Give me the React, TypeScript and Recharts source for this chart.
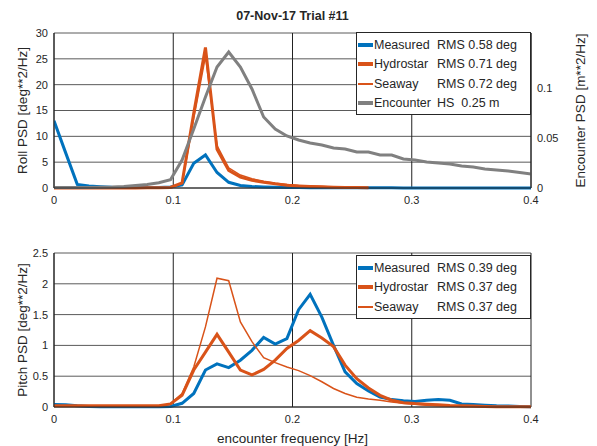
import { CartesianGrid, Legend, Line, LineChart, XAxis, YAxis } from "recharts";

// encounter frequency [Hz]
const freq = [
  0, 0.0098, 0.0195, 0.0293, 0.0391, 0.0488, 0.0586, 0.0684, 0.0781, 0.0879,
  0.0977, 0.1074, 0.1172, 0.127, 0.1367, 0.1465, 0.1563, 0.166, 0.1758, 0.1855,
  0.1953, 0.2051, 0.2148, 0.2246, 0.2344, 0.2441, 0.2539, 0.2637, 0.2734, 0.2832,
  0.293, 0.3027, 0.3125, 0.3223, 0.332, 0.3418, 0.3516, 0.3613, 0.3711, 0.3809,
  0.3906, 0.4004,
];

// roll PSD [deg**2/Hz]
const rollMeasured = [
  13, 6.8, 0.7, 0.4, 0.25, 0.15, 0.1, 0.1, 0.1, 0.1,
  0.2, 0.6, 4.8, 6.4, 3.0, 1.1, 0.5, 0.3, 0.2, 0.15,
  0.1, 0.08, 0.06, 0.05, 0.05, 0.04, 0.04, 0.03, 0.03, 0.03,
  0.02, 0.02, 0.02, 0.02, 0.02, 0.02, 0.02, 0.02, 0.02, 0.02,
  0.02, 0.02,
];
const rollHydrostar = [
  0.02, 0.02, 0.02, 0.02, 0.02, 0.02, 0.02, 0.02, 0.03, 0.04,
  0.1, 1.0, 14.5, 27.2, 7.5, 3.4, 2.1, 1.5, 1.1, 0.8,
  0.55, 0.4, 0.3, 0.22, 0.16, 0.12, 0.09, 0.07, null, null,
  null, null, null, null, null, null, null, null, null, null,
  null, null,
];
const rollSeaway = [
  0.02, 0.02, 0.02, 0.02, 0.02, 0.02, 0.02, 0.02, 0.03, 0.04,
  0.1, 0.9, 13.5, 25.5, 8.2, 3.9, 2.5, 1.8, 1.3, 0.95,
  0.7, 0.5, 0.38, 0.28, 0.2, 0.15, 0.11, 0.08, null, null,
  null, null, null, null, null, null, null, null, null, null,
  null, null,
];
// encounter wave PSD [m**2/Hz]
const encounterPsd = [
  0.0005, 0.0005, 0.0005, 0.0005, 0.0008, 0.001, 0.0015, 0.0026, 0.0036, 0.0052,
  0.0083, 0.028, 0.059, 0.091, 0.121, 0.136, 0.121, 0.099, 0.071, 0.059,
  0.052, 0.048, 0.045, 0.043, 0.04, 0.039, 0.036, 0.036, 0.033, 0.033,
  0.029, 0.028, 0.026, 0.025, 0.024, 0.022, 0.021, 0.019, 0.018, 0.017,
  0.0155, 0.014,
];

// pitch PSD [deg**2/Hz]
const pitchMeasured = [
  0.04, 0.035, 0.02, 0.01, 0.005, 0.005, 0.005, 0.005, 0.005, 0.005,
  0.01, 0.06, 0.22, 0.6, 0.7, 0.64, 0.76, 0.92, 1.13, 1.02,
  1.11, 1.58, 1.83, 1.46, 1.0, 0.57, 0.38, 0.26, 0.16, 0.12,
  0.1, 0.09, 0.11, 0.12, 0.11, 0.05, 0.04, 0.03, 0.02, 0.015,
  0.01, 0.005,
];
const pitchHydrostar = [
  0.02, 0.02, 0.02, 0.02, 0.02, 0.02, 0.02, 0.02, 0.02, 0.02,
  0.05, 0.19, 0.6, 0.89, 1.18, 0.89, 0.6, 0.52, 0.61, 0.76,
  0.95, 1.08, 1.24, 1.12, 0.98, 0.68, 0.46, 0.31, 0.19, 0.11,
  0.07, 0.055, 0.045, 0.035, 0.025, 0.02, 0.015, 0.01, 0.005, 0.005,
  0.005, 0.005,
];
const pitchSeaway = [
  0.02, 0.02, 0.02, 0.02, 0.02, 0.02, 0.02, 0.02, 0.02, 0.02,
  0.05, 0.22, 0.65, 1.3, 2.09, 2.05, 1.38, 1.06, 0.8, 0.72,
  0.65, 0.59, 0.51, 0.41, 0.3, 0.22, 0.16, 0.13, 0.11, 0.08,
  0.06, 0.045, 0.03, 0.02, 0.015, 0.01, 0.01, 0.005, 0.005, 0.005,
  0.005, 0.005,
];

const freqTicks = [0, 0.1, 0.2, 0.3, 0.4];
const rollTicks = [0, 5, 10, 15, 20, 25, 30];
const encounterTicks = [0, 0.05, 0.1];
const pitchTicks = [0, 0.5, 1, 1.5, 2, 2.5];

const rollLegend = [
  { name: "Measured", value: "RMS 0.58 deg", color: "#0072BD", thick: 4 },
  { name: "Hydrostar", value: "RMS 0.71 deg", color: "#D95319", thick: 4 },
  { name: "Seaway", value: "RMS 0.72 deg", color: "#D95319", thick: 2 },
  { name: "Encounter", value: "HS  0.25 m", color: "#808080", thick: 4 },
];
const pitchLegend = [
  { name: "Measured", value: "RMS 0.39 deg", color: "#0072BD", thick: 4 },
  { name: "Hydrostar", value: "RMS 0.37 deg", color: "#D95319", thick: 4 },
  { name: "Seaway", value: "RMS 0.37 deg", color: "#D95319", thick: 2 },
];

const rollData = freq.map((f, i) => ({
  f,
  measured: rollMeasured[i],
  hydrostar: rollHydrostar[i],
  seaway: rollSeaway[i],
  encounter: encounterPsd[i],
}));
const pitchData = freq.map((f, i) => ({
  f,
  measured: pitchMeasured[i],
  hydrostar: pitchHydrostar[i],
  seaway: pitchSeaway[i],
}));

const FONT = "'Liberation Sans', Arial, sans-serif";
const INK = "#262626";
const tickStyle = { fontSize: 11, fill: INK, fontFamily: FONT };
const labelStyle = { fontSize: 13.5, fill: INK, fontFamily: FONT, textAnchor: "middle" as const };

type Row = { name: string; value: string; color: string; thick: number };

function LegendBox({ rows }: { rows: Row[] }) {
  return (
    <div
      style={{
        border: `1px solid ${INK}`,
        background: "#fff",
        padding: "2px 0 1px 1px",
        fontFamily: FONT,
        fontSize: 12.5,
        color: INK,
        boxSizing: "border-box",
      }}
    >
      {rows.map((r) => (
        <div key={r.name} style={{ display: "flex", alignItems: "center", height: 19.5 }}>
          <span style={{ width: 15, height: r.thick, background: r.color, marginRight: 1 }} />
          <span style={{ width: 63, whiteSpace: "pre" }}>{r.name}</span>
          <span style={{ whiteSpace: "pre" }}>{r.value}</span>
        </div>
      ))}
    </div>
  );
}

export default function App() {
  return (
    <div style={{ position: "absolute", left: 0, top: 0, width: 597, height: 446, background: "#fff" }}>
      <div
        style={{
          position: "absolute",
          top: 9,
          left: 54,
          width: 477,
          textAlign: "center",
          fontFamily: FONT,
          fontWeight: "bold",
          fontSize: 12.5,
          color: INK,
        }}
      >
        07-Nov-17 Trial #11
      </div>

      <div style={{ position: "absolute", top: 0, left: 0 }}>
        <LineChart width={597} height={210} data={rollData} margin={{ top: 33, right: 0, bottom: 0, left: 0 }}>
          <CartesianGrid vertical={false} stroke="#5a5a5a" yAxisId="left" />
          <CartesianGrid horizontal={false} stroke="#222" yAxisId="left" />
          <XAxis
            dataKey="f"
            type="number"
            domain={[0, 0.4]}
            ticks={freqTicks}
            allowDataOverflow
            height={22}
            tickLine={false}
            stroke={INK}
            tick={tickStyle}
          />
          <YAxis
            yAxisId="left"
            domain={[0, 30]}
            ticks={rollTicks}
            width={54}
            tickLine={false}
            tickSize={4}
            tickMargin={2}
            stroke={INK}
            tick={tickStyle}
            label={{ value: "Roll PSD [deg**2/Hz]", angle: -90, position: "insideLeft", offset: 22, style: labelStyle }}
          />
          <YAxis
            yAxisId="right"
            orientation="right"
            domain={[0, 0.155]}
            ticks={encounterTicks}
            width={66}
            tickLine={false}
            tickSize={4}
            tickMargin={2}
            stroke={INK}
            tick={tickStyle}
            label={{ value: "Encounter PSD [m**2/Hz]", angle: -90, position: "insideRight", offset: 17, style: labelStyle }}
          />
          <Line yAxisId="left" dataKey="measured" stroke="#0072BD" strokeWidth={3} dot={false} isAnimationActive={false} />
          <Line yAxisId="left" dataKey="hydrostar" stroke="#D95319" strokeWidth={3} dot={false} isAnimationActive={false} />
          <Line yAxisId="left" dataKey="seaway" stroke="#D95319" strokeWidth={1.5} dot={false} isAnimationActive={false} />
          <Line yAxisId="right" dataKey="encounter" stroke="#808080" strokeWidth={3} dot={false} isAnimationActive={false} />
          <Legend
            layout="horizontal"
            verticalAlign="middle"
            align="center"
            wrapperStyle={{ top: 32, left: 356, width: 175 }}
            content={() => <LegendBox rows={rollLegend} />}
          />
        </LineChart>
      </div>

      <div style={{ position: "absolute", top: 230, left: 0 }}>
        <LineChart width={597} height={216} data={pitchData} margin={{ top: 23, right: 66, bottom: 0, left: 0 }}>
          <CartesianGrid vertical={false} stroke="#5a5a5a" />
          <CartesianGrid horizontal={false} stroke="#222" />
          <XAxis
            dataKey="f"
            type="number"
            domain={[0, 0.4]}
            ticks={freqTicks}
            allowDataOverflow
            height={39}
            tickLine={false}
            stroke={INK}
            tick={tickStyle}
            label={{ value: "encounter frequency [Hz]", position: "insideBottom", offset: 3, style: labelStyle }}
          />
          <YAxis
            domain={[0, 2.5]}
            ticks={pitchTicks}
            width={54}
            tickLine={false}
            tickSize={4}
            tickMargin={2}
            stroke={INK}
            tick={tickStyle}
            label={{ value: "Pitch PSD [deg**2/Hz]", angle: -90, position: "insideLeft", offset: 22, style: labelStyle }}
          />
          <Line dataKey="measured" stroke="#0072BD" strokeWidth={3} dot={false} isAnimationActive={false} />
          <Line dataKey="hydrostar" stroke="#D95319" strokeWidth={3} dot={false} isAnimationActive={false} />
          <Line dataKey="seaway" stroke="#D95319" strokeWidth={1.5} dot={false} isAnimationActive={false} />
          <Legend
            layout="horizontal"
            verticalAlign="middle"
            align="center"
            wrapperStyle={{ top: 25, left: 356, width: 175 }}
            content={() => <LegendBox rows={pitchLegend} />}
          />
        </LineChart>
      </div>
    </div>
  );
}
